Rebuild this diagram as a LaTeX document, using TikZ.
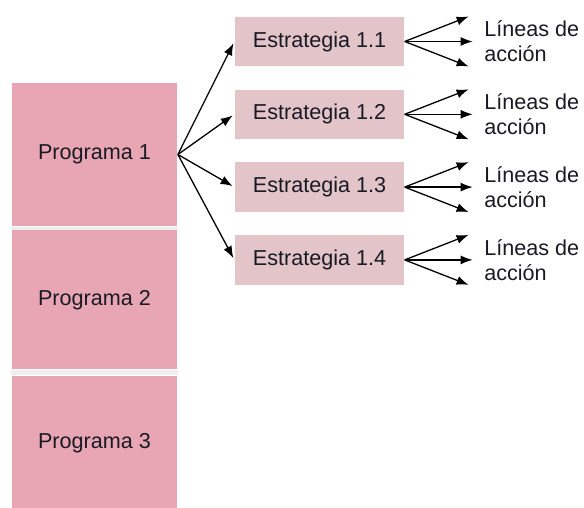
\documentclass[tikz,border=0pt]{standalone}
\usepackage{fontspec}
\setmainfont{Liberation Sans}
\usepackage{xcolor}
\usetikzlibrary{positioning,arrows.meta,calc}

\definecolor{progpink}{HTML}{E8A6B4}
\definecolor{estpink}{HTML}{E2C4C9}
\definecolor{gapgray}{HTML}{EEEEEE}
\definecolor{inkdark}{HTML}{1A1A24}

\begin{document}
\begin{tikzpicture}[x=1pt, y=-1pt,
  every node/.style={font=\fontsize{21.6}{25}\selectfont, text=inkdark},
  programa/.style={fill=progpink, minimum width=165.5pt, inner sep=0pt},
  estrategia/.style={fill=estpink, minimum width=169pt, minimum height=49.5pt, inner sep=0pt},
  lineas/.style={align=left, inner sep=0pt},
  >={Latex[length=12pt,width=9pt]}, line width=1.3pt, node distance=22pt
]
\useasboundingbox (0,0) rectangle (584,508);

\node[programa, minimum height=143pt] (prog1) at (94.5,154.5) {Programa 1};
\node[programa, minimum height=139pt, below=3pt of prog1] (prog2) {Programa 2};
\node[programa, minimum height=135pt, below=5pt of prog2] (prog3) {Programa 3};
\fill[gapgray] (prog1.south west) rectangle (prog2.north east);
\fill[gapgray] (prog2.south west) rectangle (prog3.north east);

\node[estrategia] (est1) at (319.5,41.5) {Estrategia 1.1};
\node[estrategia, below=of est1] (est2) {Estrategia 1.2};
\node[estrategia, below=of est2] (est3) {Estrategia 1.3};
\node[estrategia, below=of est3] (est4) {Estrategia 1.4};

\foreach \i in {1,...,4} {
  \draw[->, shorten >=2pt] (prog1.east) -- (est\i.west);
  \coordinate (up\i) at ($(est\i.east)+(64,-25)$);
  \coordinate (mid\i) at ($(est\i.east)+(68,0)$);
  \coordinate (down\i) at ($(est\i.east)+(64,25)$);
  \draw[->] (est\i.east) -- (up\i);
  \draw[->] (est\i.east) -- (mid\i);
  \draw[->] (est\i.east) -- (down\i);
  \node[lineas, right=79pt of est\i.east, anchor=west] (lin\i) {Líneas de\\acción};
}
\end{tikzpicture}
\end{document}
